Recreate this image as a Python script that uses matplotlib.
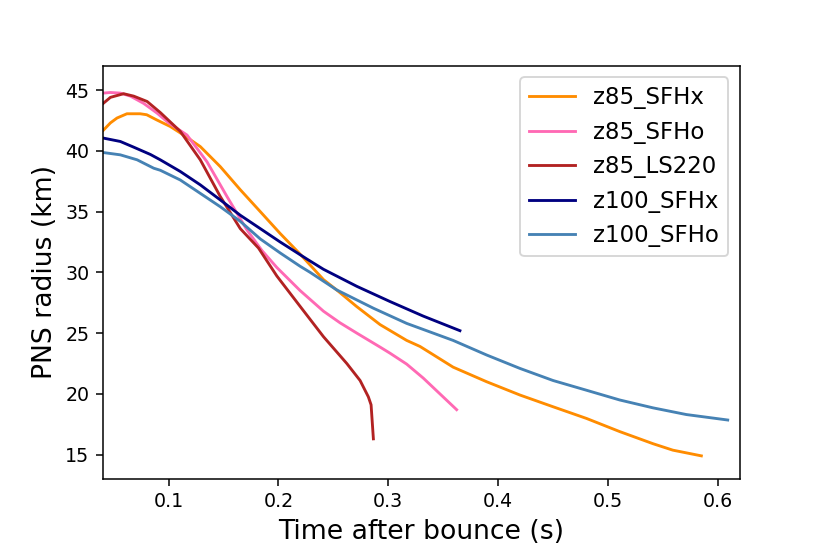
import matplotlib
matplotlib.use('Agg')
import matplotlib.pyplot as plt

# time after bounce (s) and PNS radius (km) for each model
t_z85_sfhx = [0.0406, 0.047, 0.053, 0.062, 0.074, 0.080, 0.089, 0.1015, 0.1136, 0.1288,
              0.147, 0.1652, 0.1834, 0.2015, 0.2197, 0.241, 0.253, 0.271, 0.2925, 0.3167,
              0.3289, 0.359, 0.3895, 0.42, 0.45, 0.4804, 0.5106, 0.541, 0.559, 0.585]
r_z85_sfhx = [41.7, 42.3, 42.7, 43.05, 43.05, 42.97, 42.55, 42.0, 41.3, 40.35,
              38.7, 36.8, 35.0, 33.2, 31.5, 29.4, 28.55, 27.2, 25.7, 24.4,
              23.9, 22.2, 21.0, 19.9, 18.94, 17.98, 16.9, 15.9, 15.37, 14.9]

t_z85_sfho = [0.0404, 0.047, 0.056, 0.0652, 0.0773, 0.0895, 0.1, 0.1167, 0.1349, 0.1531,
              0.1712, 0.1849, 0.1985, 0.2197, 0.241, 0.256, 0.2713, 0.2925, 0.3015, 0.3167,
              0.3318, 0.3622]
r_z85_sfho = [44.75, 44.8, 44.75, 44.5, 43.9, 43.1, 42.3, 41.3, 39.1, 36.24,
              33.5, 31.8, 30.4, 28.5, 26.8, 25.85, 25.0, 23.85, 23.35, 22.45,
              21.3, 18.7]

t_z85_ls220 = [0.0404, 0.047, 0.059, 0.0682, 0.0804, 0.0924, 0.1106, 0.1288, 0.147, 0.1652,
               0.1818, 0.1985, 0.2197, 0.241, 0.2622, 0.2743, 0.2818, 0.2843, 0.2864]
r_z85_ls220 = [43.9, 44.4, 44.7, 44.5, 44.06, 43.15, 41.6, 39.26, 36.24, 33.6,
               32.0, 29.7, 27.2, 24.7, 22.5, 21.1, 19.76, 19.1, 16.3]

t_z100_sfhx = [0.0404, 0.056, 0.0682, 0.0834, 0.0924, 0.1106, 0.1288, 0.147, 0.1652, 0.1834,
               0.2015, 0.2258, 0.241, 0.2713, 0.3015, 0.3318, 0.3652]
r_z100_sfhx = [41.05, 40.77, 40.3, 39.7, 39.26, 38.3, 37.2, 35.96, 34.7, 33.6,
               32.5, 31.1, 30.25, 28.85, 27.6, 26.4, 25.2]

t_z100_sfho = [0.0404, 0.056, 0.0713, 0.0864, 0.0924, 0.1106, 0.1288, 0.147, 0.1652, 0.1834,
               0.2015, 0.2197, 0.2288, 0.2531, 0.2864, 0.3167, 0.3288, 0.359, 0.3895, 0.4197,
               0.45, 0.4804, 0.5106, 0.541, 0.5713, 0.609]
r_z100_sfho = [39.86, 39.67, 39.26, 38.57, 38.4, 37.6, 36.5, 35.4, 34.2, 32.75,
               31.6, 30.5, 30.0, 28.55, 27.05, 25.8, 25.4, 24.4, 23.2, 22.1,
               21.1, 20.3, 19.5, 18.85, 18.3, 17.85]

models = [
    ('z85_SFHx', t_z85_sfhx, r_z85_sfhx, 'darkorange'),
    ('z85_SFHo', t_z85_sfho, r_z85_sfho, 'hotpink'),
    ('z85_LS220', t_z85_ls220, r_z85_ls220, 'firebrick'),
    ('z100_SFHx', t_z100_sfhx, r_z100_sfhx, 'navy'),
    ('z100_SFHo', t_z100_sfho, r_z100_sfho, 'steelblue'),
]

fig, ax = plt.subplots(figsize=(6, 4), dpi=137)
fig.subplots_adjust(left=0.125, right=0.9, top=0.88, bottom=0.126)

for name, t, r, c in models:
    ax.plot(t, r, color=c, label=name)

ax.set_xlim(0.04, 0.62)
ax.set_ylim(13, 47)
ax.set_xticks([0.1, 0.2, 0.3, 0.4, 0.5, 0.6])
ax.set_yticks([15, 20, 25, 30, 35, 40, 45])
ax.set_xlabel('Time after bounce (s)', fontsize=14)
ax.set_ylabel('PNS radius (km)', fontsize=14)
ax.legend(loc='upper right', fontsize=12)

plt.savefig('out.png', dpi=137)
plt.close()
